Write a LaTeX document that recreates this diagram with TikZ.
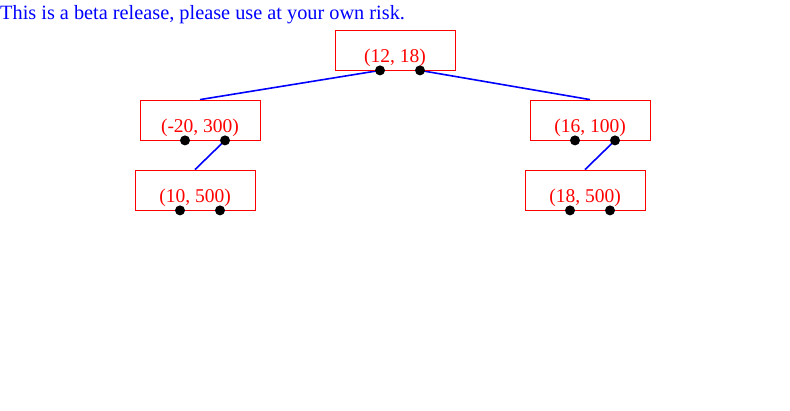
\documentclass[tikz,border=0pt]{standalone}
\usepackage{fontspec}
\setmainfont{Liberation Serif}
\usetikzlibrary{backgrounds}

\begin{document}
\begin{tikzpicture}[x=1pt,y=-1pt]
    \tikzstyle{BoxStyle}=[draw         = red,
                          line width   = 0.8pt,
                          minimum width  = 120pt,
                          minimum height = 40pt,
                          inner sep    = 0pt]
    \tikzstyle{KeyStyle}=[text         = red,
                          font         = \fontsize{19.5}{19.5}\selectfont,
                          anchor       = base,
                          inner sep    = 0pt]
    \tikzstyle{DotStyle}=[shape        = circle,
                          fill         = black,
                          minimum size = 10pt,
                          inner sep    = 0pt]
    \tikzstyle{EdgeStyle}=[blue,
                           line width  = 1.6pt]
    \useasboundingbox (0,0) rectangle (790,410);
    \node[anchor=base west, text=blue, inner sep=0pt,
          font=\fontsize{20.3}{20.3}\selectfont] (beta) at (0,19)
          {This is a beta release, please use at your own risk.};
    % boxes
    \node[BoxStyle] (root)  at (395,50)  {};
    \node[BoxStyle] (left)  at (200,120) {};
    \node[BoxStyle] (right) at (590,120) {};
    \node[BoxStyle] (leftC) at (195,190) {};
    \node[BoxStyle] (rightC) at (585,190) {};
    % keys
    \node[KeyStyle, yshift=-12pt] (rootK)   at (root.center)   {(12, 18)};
    \node[KeyStyle, yshift=-12pt] (leftK)   at (left.center)   {(-20, 300)};
    \node[KeyStyle, yshift=-12pt] (rightK)  at (right.center)  {(16, 100)};
    \node[KeyStyle, yshift=-12pt] (leftCK)  at (leftC.center)  {(10, 500)};
    \node[KeyStyle, yshift=-12pt] (rightCK) at (rightC.center) {(18, 500)};
    % pointers
    \foreach \n in {root,left,right,leftC,rightC}{
        \node[DotStyle, xshift=-15pt] (\n L) at (\n.south) {};
        \node[DotStyle, xshift=25pt]  (\n R) at (\n.south) {};
    }
    \begin{pgfonlayer}{background}
        \draw[EdgeStyle] (rootL.center)  -- (left.north);
        \draw[EdgeStyle] (rootR.center)  -- (right.north);
        \draw[EdgeStyle] (leftR.center)  -- (leftC.north);
        \draw[EdgeStyle] (rightR.center) -- (rightC.north);
    \end{pgfonlayer}
\end{tikzpicture}
\end{document}
